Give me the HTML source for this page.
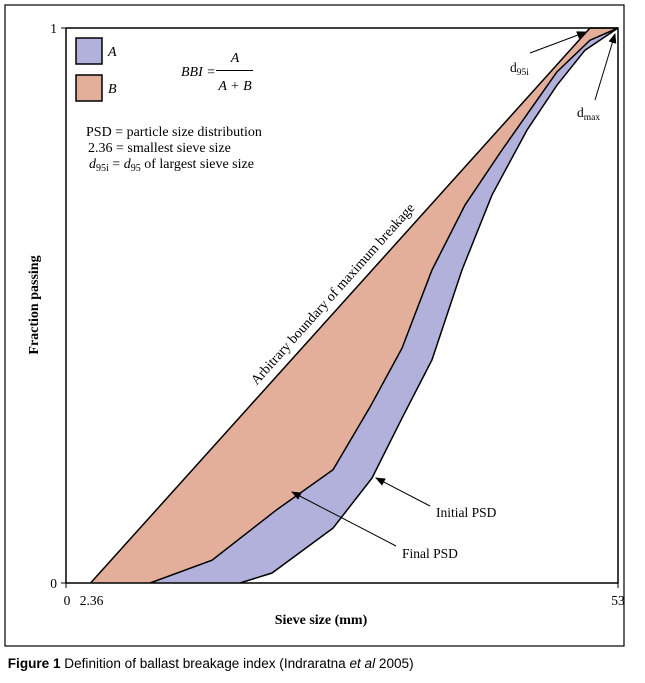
<!DOCTYPE html>
<html><head><meta charset="utf-8"><style>
body{margin:0;background:#fff;width:645px;height:678px;overflow:hidden}
svg text{font-family:"Liberation Serif",serif}
</style></head><body>
<svg width="645" height="678">
<rect x="5" y="5" width="619" height="641" fill="none" stroke="#000" stroke-width="1.2"/>
<g id="plot"></g>
<text x="8" y="668" font-size="14" style="font-family:'Liberation Sans',sans-serif" transform="scale(0.97,1)"><tspan font-weight="bold">Figure 1</tspan> Definition of ballast breakage index (Indraratna <tspan font-style="italic">et al</tspan> 2005)</text>
</svg>
<script>
const finalX=[8.07,14.02,20.16,25.64,29.19,32.26,35.14,38.31,41.67,44.55,47.14,50.31,53];
const finalY=[0,0.041,0.131,0.204,0.317,0.423,0.564,0.681,0.775,0.852,0.921,0.978,1];
const initX=[16.71,19.78,25.64,29.38,32.26,35.14,38.02,40.9,44.26,47.14,49.83,53];
const initY=[0,0.018,0.099,0.189,0.297,0.402,0.564,0.699,0.816,0.897,0.960,1];
const boundX=[2.36,50.31,53];
const boundY=[0,1,1];
const xTicks=[0,2.36,53];
const xTickLabels=["0","2.36","53"];
const yTicks=[0,1];
const yTickLabels=["0","1"];
const X0=66,X1=618,Y0=583,Y1=28;
const sx=v=>X0+v/53*(X1-X0), sy=v=>Y0-v*(Y0-Y1);
const NS="http://www.w3.org/2000/svg", g=document.getElementById('plot');
function mk(t,a){const e=document.createElementNS(NS,t);for(const k in a)e.setAttribute(k,a[k]);g.appendChild(e);return e;}
const pts=(xs,ys)=>xs.map((x,i)=>sx(x)+','+sy(ys[i]));
let b=mk('polygon',{points:pts(boundX,boundY).concat(pts(finalX,finalY).reverse()).join(' '),fill:'#e3ae9a',stroke:'none'});


let a=mk('polygon',{points:pts(finalX,finalY).concat(pts(initX,initY).reverse()).join(' '),fill:'#b1b1db',stroke:'none'});


let l1=mk('polyline',{points:pts(boundX,boundY).join(' '),fill:'none',stroke:'#000','stroke-width':1.5});


let l2=mk('polyline',{points:pts(finalX,finalY).join(' '),fill:'none',stroke:'#000','stroke-width':1.5});


let l3=mk('polyline',{points:pts(initX,initY).join(' '),fill:'none',stroke:'#000','stroke-width':1.5});


let ax=mk('polyline',{points:`${X0},${Y1} ${X0},${Y0} ${X1},${Y0} ${X1},${Y1} ${X0},${Y1}`,fill:'none',stroke:'#000','stroke-width':1.5});


xTicks.forEach((v,i)=>{
 if(v===0||v===53){mk('line',{x1:sx(v),x2:sx(v),y1:Y0,y2:Y0+5,stroke:'#000'});}
 const t=mk('text',{x:sx(v),y:605,'font-size':13.5,'text-anchor':'middle'});
 if(v===0)t.setAttribute('x',sx(v)+1);
 if(v===2.36)t.setAttribute('x',sx(v)+1);
 t.textContent=xTickLabels[i];
 
 
});
yTicks.forEach((v,i)=>{
 mk('line',{x1:X0-5,x2:X0,y1:sy(v),y2:sy(v),stroke:'#000'});
 const t=mk('text',{x:57,y:sy(v)+5,'font-size':13.5,'text-anchor':'end'});
 t.textContent=yTickLabels[i];
 
 
});
</script>
<svg width="645" height="678" style="position:absolute;left:0;top:0">
<defs><marker id="ah" markerWidth="10" markerHeight="8" refX="9" refY="4" orient="auto"><path d="M0,0 L10,4 L0,8 z" fill="#000"/></marker></defs>
<text x="321" y="624" font-size="14" font-weight="bold" text-anchor="middle">Sieve size (mm)</text>
<text transform="translate(38,305) rotate(-90)" font-size="14" font-weight="bold" text-anchor="middle">Fraction passing</text>
<rect x="76" y="38" width="26" height="26" fill="#b1b1db" stroke="#000" stroke-width="1.5"/>
<text x="108" y="56" font-size="14" font-style="italic">A</text>
<rect x="76" y="75" width="26" height="26" fill="#e3ae9a" stroke="#000" stroke-width="1.5"/>
<text x="108" y="93" font-size="14" font-style="italic">B</text>
<g font-size="14" font-style="italic">
<text x="181" y="76">BBI =</text>
<text x="235" y="62" text-anchor="middle">A</text>
<line x1="216" x2="253" y1="70.5" y2="70.5" stroke="#000"/>
<text x="235" y="90" text-anchor="middle">A + B</text>
</g>
<g font-size="14">
<text x="86" y="136">PSD = particle size distribution</text>
<text x="88" y="152">2.36 = smallest sieve size</text>
<text x="89" y="168"><tspan font-style="italic">d</tspan><tspan font-size="10" dy="3">95i</tspan><tspan dy="-3"> = </tspan><tspan font-style="italic">d</tspan><tspan font-size="10" dy="3">95</tspan><tspan dy="-3"> of largest sieve size</tspan></text>
</g>
<text transform="translate(336,297) rotate(-48.2)" font-size="14" text-anchor="middle">Arbitrary boundary of maximum breakage</text>
<line x1="430" y1="506" x2="376" y2="478" stroke="#000" marker-end="url(#ah)"/>
<text x="436" y="517" font-size="13.5">Initial PSD</text>
<line x1="396" y1="546" x2="292" y2="492" stroke="#000" marker-end="url(#ah)"/>
<text x="402" y="558" font-size="13.5">Final PSD</text>
<line x1="530" y1="53" x2="586" y2="32" stroke="#000" marker-end="url(#ah)"/>
<text x="510" y="72" font-size="13.5">d<tspan font-size="9.5" dy="3">95i</tspan></text>
<line x1="595" y1="100" x2="615" y2="34" stroke="#000" marker-end="url(#ah)"/>
<text x="577" y="117" font-size="13.5">d<tspan font-size="9.5" dy="3">max</tspan></text>
</svg>
</body></html>
